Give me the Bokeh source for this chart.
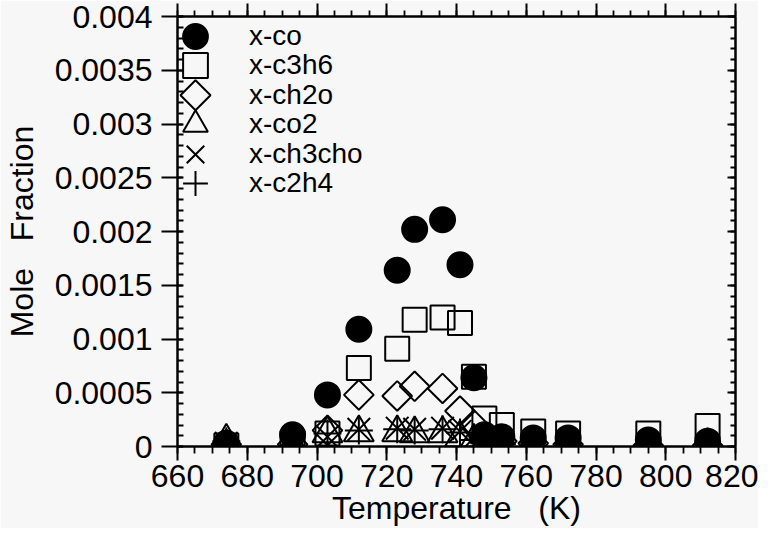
import math
from bokeh.plotting import figure
from bokeh.models import (Range1d, LinearAxis, FixedTicker, CustomJSTickFormatter,
                          Legend, LegendItem, ColumnDataSource, PolyAnnotation)
from bokeh.embed import file_html
from bokeh.resources import INLINE

# ---- data ----
temperature = [674, 693, 703, 712, 723, 728, 736, 741, 745, 748, 753, 762, 772, 795, 812]
x_co     = [0.00003, 0.00011, 0.00048, 0.00109, 0.00164, 0.00202, 0.00211, 0.00169,
            0.00064, 0.00011, 0.00009, 0.00008, 0.00008, 0.00006, 0.00005]
x_c3h6   = [0.00001, 0.00003, 0.00012, 0.00073, 0.00091, 0.00118, 0.00120, 0.00115,
            0.00065, 0.00026, 0.00020, 0.00014, 0.00012, 0.00012, 0.00019]
x_ch2o   = [0.00002, 0.00002, 0.00015, 0.00048, 0.00047, 0.00056, 0.00054, 0.00033,
            0.00020, 0.00008, 0.00005, 0.00003, 0.00002, 0.00001, 0.00001]
x_co2    = [0.00005, 0.00002, 0.00012, 0.00013, 0.00013, 0.00012, 0.00012, 0.00008,
            0.00005, 0.00003, 0.00002, 0.00002, 0.00002, 0.00001, 0.00001]
x_ch3cho = [0.00003, 0.00001, 0.00009, 0.00016, 0.00017, 0.00016, 0.00017, 0.00014,
            0.00008, 0.00004, 0.00002, 0.00001, 0.00001, 0.00000, 0.00000]
x_c2h4   = [0.00005, 0.00001, 0.00012, 0.00015, 0.00016, 0.00015, 0.00016, 0.00013,
            0.00006, 0.00003, 0.00002, 0.00001, 0.00001, 0.00000, 0.00000]

series_names = ["x-co", "x-c3h6", "x-ch2o", "x-co2", "x-ch3cho", "x-c2h4"]

x_ticks = [660, 680, 700, 720, 740, 760, 780, 800, 820]
x_minor_ticks = list(range(660, 821, 5))
y_ticks = [0, 0.0005, 0.001, 0.0015, 0.002, 0.0025, 0.003, 0.0035, 0.004]
y_minor_ticks = [round(i * 0.0001, 4) for i in range(41)]

BG = "#f7f7f7"
FONT = "Liberation Sans"
NB = "\u00a0"

W, H = 758, 528
p = figure(width=W, height=H,
           x_range=Range1d(660, 820), y_range=Range1d(0, 0.004),
           output_backend="svg", toolbar_location=None,
           min_border_left=167, min_border_top=16, min_border_right=23, min_border_bottom=81,
           background_fill_color=BG, border_fill_color=BG,
           x_axis_label="Temperature" + NB * 3 + "(K)",
           y_axis_label="Mole" + NB * 3 + "Fraction")
p.outline_line_color = None
p.grid.visible = False

src = ColumnDataSource(dict(t=temperature, co=x_co, c3h6=x_c3h6, ch2o=x_ch2o,
                            co2=x_co2, ch3cho=x_ch3cho, c2h4=x_c2h4))

common = dict(source=src, line_color="black", line_width=2)
r_co = p.scatter("t", "co", marker="circle", size=25, fill_color="black", **common)
r_c3h6 = p.scatter("t", "c3h6", marker="square", size=24, fill_alpha=0, **common)
r_ch2o = p.scatter("t", "ch2o", marker="square", size=21, angle=math.pi / 4, fill_alpha=0, **common)
r_co2 = p.scatter("t", "co2", marker="triangle", size=30, fill_alpha=0, **common)
r_ch3cho = p.scatter("t", "ch3cho", marker="x", size=32, fill_alpha=0, **common)
r_c2h4 = p.scatter("t", "c2h4", marker="cross", size=28, fill_alpha=0, **common)

# invisible stand-in so the legend keeps the ch2o label; its diamond symbol is drawn below
r_ch2o_key = p.scatter("t", "ch2o", marker="square", size=1, source=src,
                       fill_alpha=0, line_alpha=0)

renderers = [r_co, r_c3h6, r_ch2o_key, r_co2, r_ch3cho, r_c2h4]

# legend layout (screen pixels relative to the frame's bottom-left corner)
KEY = 62            # legend glyph box; markers are drawn at 0.4 * KEY
ROW_PITCH = 29.4
FIRST_ROW_BOTTOM = 379
KEY_LEFT = -13
for i, (n, r) in enumerate(zip(series_names, renderers)):
    lg = Legend(items=[LegendItem(label=n, renderers=[r])],
                location=(KEY_LEFT, FIRST_ROW_BOTTOM - ROW_PITCH * i),
                margin=0, padding=0, spacing=0,
                glyph_width=KEY, glyph_height=KEY, label_standoff=23,
                label_text_font=FONT, label_text_font_size="28px", label_text_color="black",
                background_fill_alpha=0, border_line_alpha=0)
    p.add_layout(lg)

# diamond legend symbol for x-ch2o (frame-relative screen px)
cx = KEY_LEFT + KEY / 2
cy = FIRST_ROW_BOTTOM - ROW_PITCH * 2 + KEY / 2
hd = 15
p.add_layout(PolyAnnotation(xs=[cx, cx + hd, cx, cx - hd], ys=[cy + hd, cy, cy - hd, cy],
                            xs_units="screen", ys_units="screen",
                            fill_alpha=0, line_color="black", line_alpha=1, line_width=2))

xt = FixedTicker(ticks=x_ticks, minor_ticks=x_minor_ticks)
yt = FixedTicker(ticks=y_ticks, minor_ticks=y_minor_ticks)

def style(ax):
    ax.axis_line_width = 2.5
    ax.major_tick_line_width = 2
    ax.minor_tick_line_width = 1.8
    ax.axis_line_color = "black"
    ax.major_tick_line_color = "black"
    ax.minor_tick_line_color = "black"
    ax.major_label_text_font = FONT
    ax.major_label_text_font_size = "32px"
    ax.major_label_text_color = "black"
    ax.axis_label_text_font = FONT
    ax.axis_label_text_font_size = "32px"
    ax.axis_label_text_font_style = "normal"
    ax.axis_label_text_color = "black"

xa = p.xaxis[0]
xa.ticker = xt
style(xa)
xa.major_tick_out = 14
xa.major_tick_in = 0
xa.minor_tick_out = 7
xa.minor_tick_in = 0
xa.major_label_standoff = 4
xa.axis_label_standoff = 0

ya = p.yaxis[0]
ya.ticker = yt
style(ya)
ya.formatter = CustomJSTickFormatter(code="return String(parseFloat(tick.toFixed(4)));")
ya.major_tick_out = 16
ya.major_tick_in = 5
ya.minor_tick_out = 0
ya.minor_tick_in = 6
ya.major_label_standoff = 9
ya.axis_label_standoff = 12

blank = CustomJSTickFormatter(code="return '';")
top = LinearAxis(ticker=xt, formatter=blank)
style(top)
top.major_label_text_font_size = "0px"
top.major_label_standoff = 0
top.major_tick_out = 13
top.major_tick_in = 0
top.minor_tick_out = 6
top.minor_tick_in = 0
p.add_layout(top, "above")

right = LinearAxis(ticker=yt, formatter=blank)
style(right)
right.major_label_text_font_size = "0px"
right.major_label_standoff = 0
right.major_tick_out = 0
right.major_tick_in = 8
right.minor_tick_out = 0
right.minor_tick_in = 5
p.add_layout(right, "right")

open("out.html", "w").write(file_html(p, INLINE))
